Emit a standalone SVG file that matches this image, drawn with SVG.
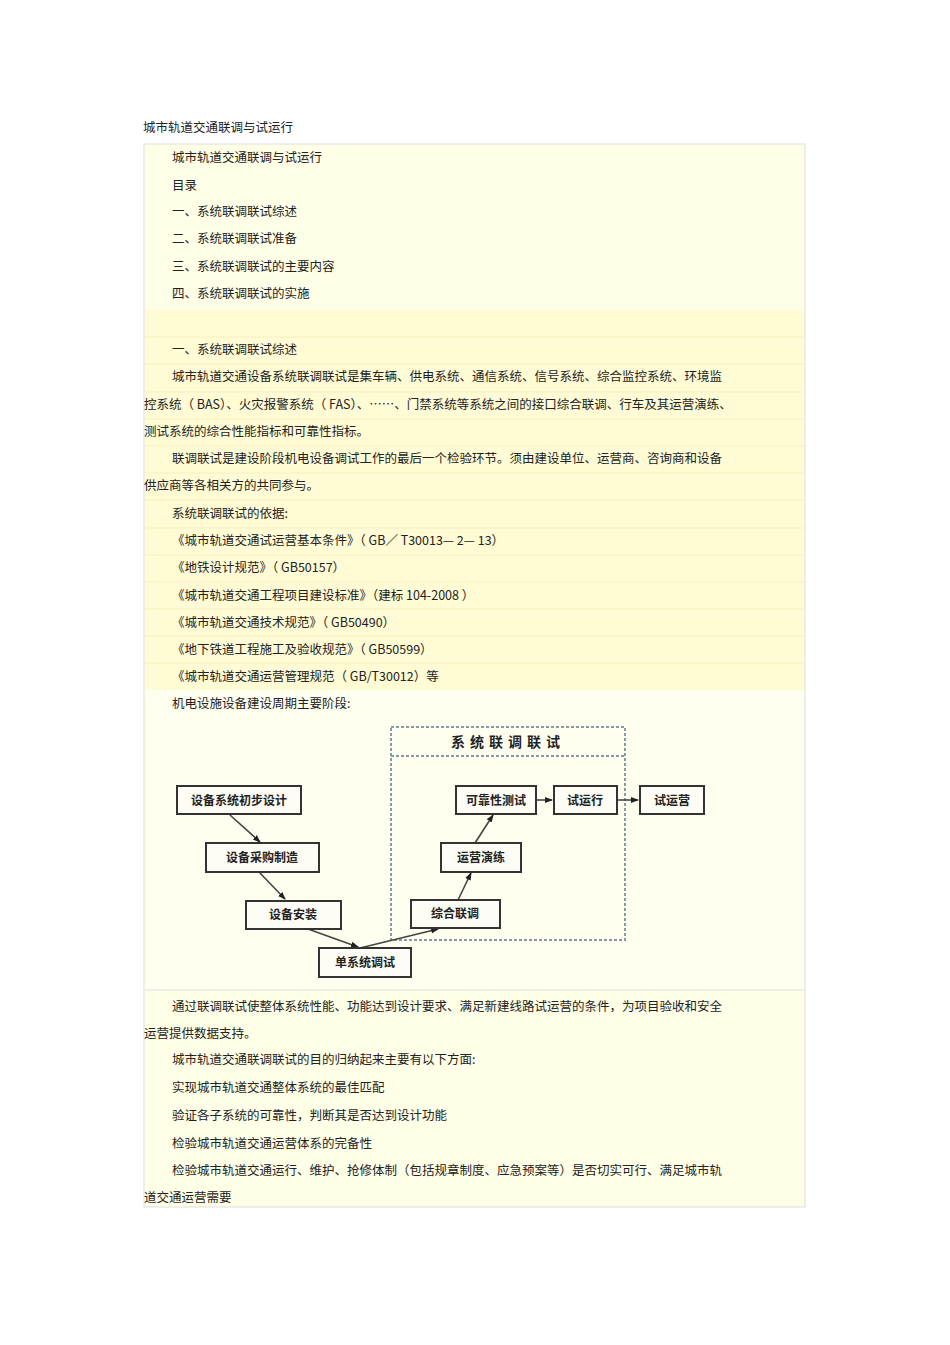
<svg xmlns="http://www.w3.org/2000/svg" width="950" height="1345" viewBox="0 0 950 1345">
<style>
.t{font-family:"Noto Sans CJK SC","Liberation Sans",sans-serif;font-size:12.5px;fill:#222}
.b rect{fill:#fdfdf5;stroke:#333;stroke-width:2}
.b text{font-family:"Noto Sans CJK SC",sans-serif;font-size:12px;font-weight:bold;fill:#222;text-anchor:middle}
.c line{stroke:#444;stroke-width:1.6;marker-end:url(#a)}
.r{stroke:#f7f0c0;stroke-width:1}
</style>
<defs><marker id="a" markerWidth="8" markerHeight="8" refX="7" refY="4" orient="auto" markerUnits="userSpaceOnUse"><path d="M0,1 L8,4 L0,7z" fill="#222"/></marker></defs>
<rect width="950" height="1345" fill="#fff"/>
<text class="t" x="143" y="132">城市轨道交通联调与试运行</text>
<rect x="144" y="144" width="661" height="1063" fill="#fffee6" stroke="#ddd"/>
<rect x="145" y="310" width="659" height="380" fill="#fffbd4"/>
<g class="r"><line x1="145" y1="337" x2="804" y2="337"/><line x1="145" y1="364" x2="804" y2="364"/><line x1="145" y1="392" x2="804" y2="392"/><line x1="145" y1="419" x2="804" y2="419"/><line x1="145" y1="446" x2="804" y2="446"/><line x1="145" y1="473" x2="804" y2="473"/><line x1="145" y1="500" x2="804" y2="500"/><line x1="145" y1="528" x2="804" y2="528"/><line x1="145" y1="555" x2="804" y2="555"/><line x1="145" y1="582" x2="804" y2="582"/><line x1="145" y1="609" x2="804" y2="609"/><line x1="145" y1="636" x2="804" y2="636"/><line x1="145" y1="663" x2="804" y2="663"/></g>
<rect x="145" y="690" width="659" height="300" fill="#fffff0"/>
<line x1="145" y1="990" x2="804" y2="990" stroke="#ddd"/>
<g class="t">
<text x="172" y="162">城市轨道交通联调与试运行</text>
<text x="172" y="190">目录</text>
<text x="172" y="216">一、系统联调联试综述</text>
<text x="172" y="243">二、系统联调联试准备</text>
<text x="172" y="271">三、系统联调联试的主要内容</text>
<text x="172" y="298">四、系统联调联试的实施</text>
<text x="172" y="354">一、系统联调联试综述</text>
<text x="172" y="381">城市轨道交通设备系统联调联试是集车辆、供电系统、通信系统、信号系统、综合监控系统、环境监</text>
<text x="144" y="409">控系统（ BAS）、火灾报警系统（  FAS）、……、门禁系统等系统之间的接口综合联调、行车及其运营演练、</text>
<text x="144" y="436">测试系统的综合性能指标和可靠性指标。</text>
<text x="172" y="463">联调联试是建设阶段机电设备调试工作的最后一个检验环节。须由建设单位、运营商、咨询商和设备</text>
<text x="144" y="490">供应商等各相关方的共同参与。</text>
<text x="172" y="518">系统联调联试的依据:</text>
<text x="172" y="545">《城市轨道交通试运营基本条件》（    GB∕ T30013— 2— 13）</text>
<text x="172" y="572">《地铁设计规范》（  GB50157）</text>
<text x="172" y="600">《城市轨道交通工程项目建设标准》（建标     104-2008 ）</text>
<text x="172" y="627">《城市轨道交通技术规范》（   GB50490）</text>
<text x="172" y="654">《地下铁道工程施工及验收规范》（    GB50599）</text>
<text x="172" y="681">《城市轨道交通运营管理规范（    GB/T30012）等</text>
<text x="172" y="708">机电设施设备建设周期主要阶段:</text>
<text x="172" y="1011">通过联调联试使整体系统性能、功能达到设计要求、满足新建线路试运营的条件，为项目验收和安全</text>
<text x="144" y="1038">运营提供数据支持。</text>
<text x="172" y="1064">城市轨道交通联调联试的目的归纳起来主要有以下方面:</text>
<text x="172" y="1092">实现城市轨道交通整体系统的最佳匹配</text>
<text x="172" y="1120">验证各子系统的可靠性，判断其是否达到设计功能</text>
<text x="172" y="1148">检验城市轨道交通运营体系的完备性</text>
<text x="172" y="1175">检验城市轨道交通运行、维护、抢修体制（包括规章制度、应急预案等）是否切实可行、满足城市轨</text>
<text x="144" y="1202">道交通运营需要</text>
</g>
<g id="frame">
<rect x="391" y="727" width="234" height="213" fill="none" stroke="#8899aa" stroke-width="2" stroke-dasharray="3,2"/>
<line x1="391" y1="756" x2="625" y2="756" stroke="#8899aa" stroke-width="2" stroke-dasharray="3,2"/>
<text x="508" y="747" font-family="Noto Sans CJK SC,sans-serif" font-size="14" font-weight="bold" letter-spacing="5" text-anchor="middle" fill="#222">系统联调联试</text>
</g>
<g class="c">
<line x1="230" y1="815" x2="260" y2="842"/>
<line x1="259" y1="872" x2="285" y2="899"/>
<line x1="308" y1="929" x2="358" y2="947"/>
<line x1="360" y1="948" x2="438" y2="929"/>
<line x1="458" y1="900" x2="471" y2="873"/>
<line x1="475" y1="843" x2="493" y2="815"/>
<line x1="536" y1="800" x2="552" y2="800"/>
<line x1="617" y1="800" x2="638" y2="800"/>
</g>
<g class="b">
<g id="n1"><rect x="177" y="786" width="124" height="28"/><text x="239" y="805">设备系统初步设计</text></g>
<g id="n2"><rect x="206" y="843" width="113" height="29"/><text x="262" y="862">设备采购制造</text></g>
<g id="n3"><rect x="246" y="901" width="95" height="28"/><text x="293" y="919">设备安装</text></g>
<g id="n4"><rect x="319" y="948" width="92" height="29"/><text x="365" y="967">单系统调试</text></g>
<g id="n5"><rect x="411" y="900" width="89" height="28"/><text x="455" y="918">综合联调</text></g>
<g id="n6"><rect x="441" y="843" width="80" height="29"/><text x="481" y="862">运营演练</text></g>
<g id="n7"><rect x="456" y="786" width="80" height="28"/><text x="496" y="805">可靠性测试</text></g>
<g id="n8"><rect x="554" y="786" width="63" height="28"/><text x="585" y="805">试运行</text></g>
<g id="n9"><rect x="640" y="786" width="64" height="28"/><text x="672" y="805">试运营</text></g>
</g>
</svg>
